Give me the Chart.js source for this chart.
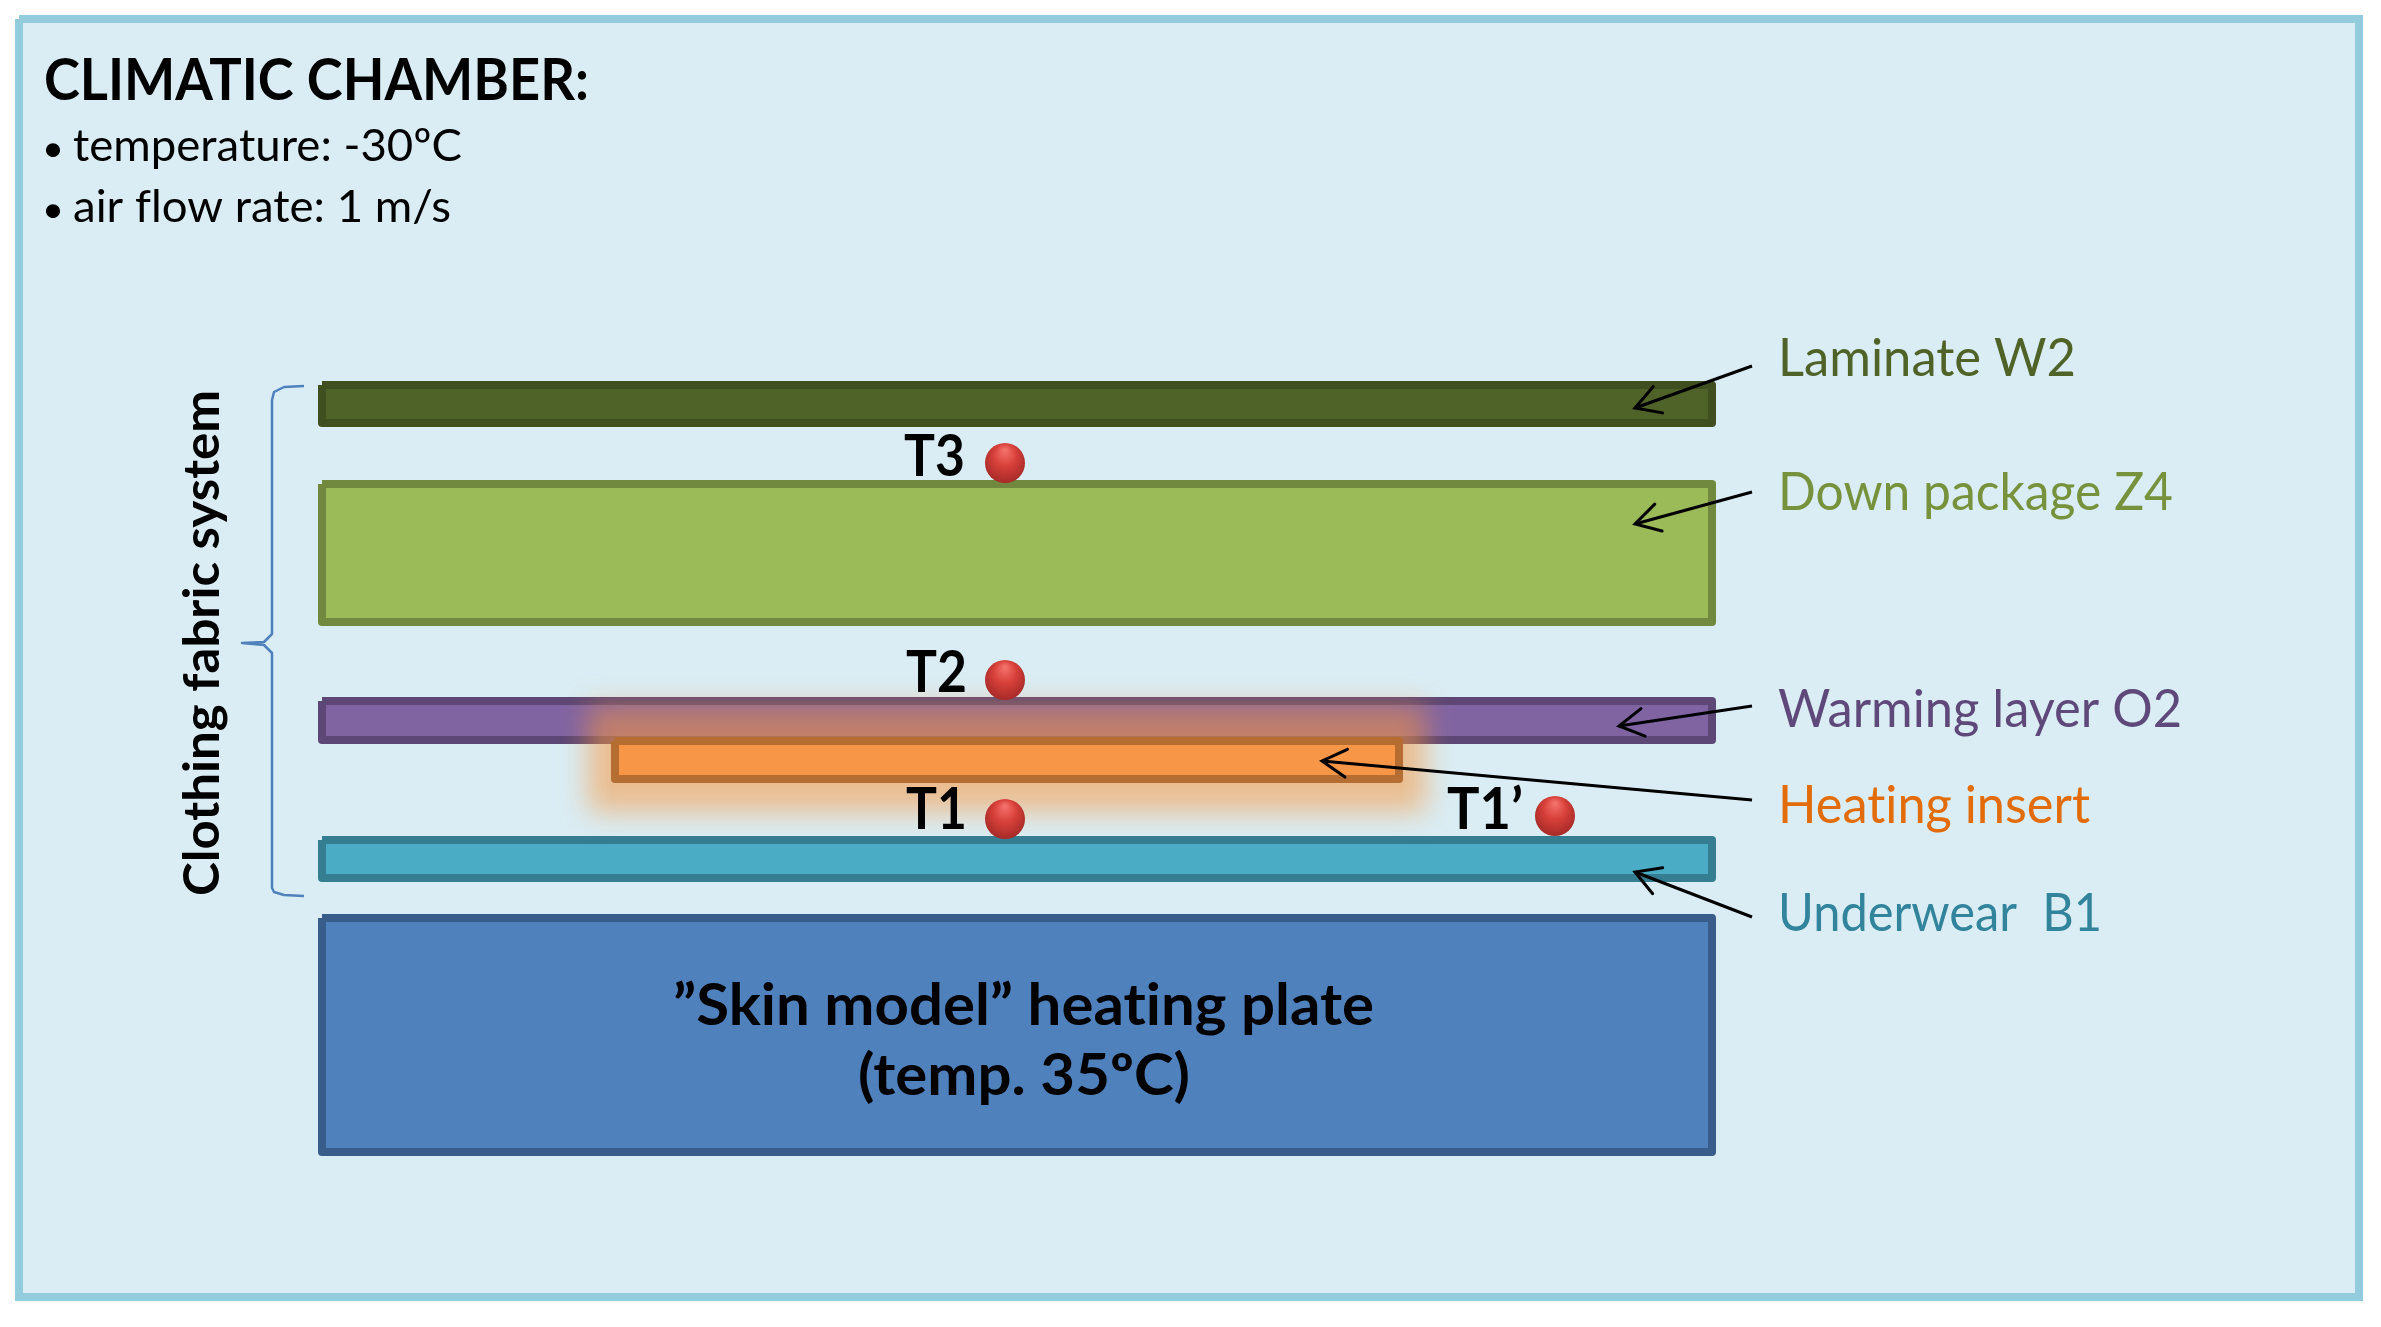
<!DOCTYPE html>
<html>
<head>
<meta charset="utf-8">
<style>html,body{margin:0;padding:0;background:#fff}canvas{display:block}</style>
<script src="https://cdn.jsdelivr.net/npm/chart.js@4/dist/chart.umd.min.js"></script>
</head>
<body>
<canvas id="c" width="2381" height="1327"></canvas>
<script>
// Layers (readings on the picture's own axes; stroke centre lines)
const layerNames  = ['Laminate W2','Down package Z4','Warming layer O2','Heating insert','Underwear B1','Heating plate'];
const layerLeft   = [322, 322, 322, 615, 322, 322];
const layerRight  = [1712, 1712, 1712, 1399, 1712, 1712];
const layerTop    = [385, 484, 701, 741, 840, 918];
const layerBottom = [423, 622, 740, 779, 878, 1152];
const layerFill   = ['#4F6228','#9BBB59','#8064A2','#F79646','#4BACC6','#4F81BD'];
const layerStroke = ['#3F4F20','#71893F','#5C4776','#B66D31','#357D91','#385D8A'];

const panelX = [19, 2359], panelY = [19, 1297];
const glowX = [588, 1426], glowY = [706, 812];

// Temperature sensors
const sensorNames = ['T3','T2','T1','T1’'];
const sensorX = [1005, 1005, 1005, 1555];
const sensorY = [463, 680, 819, 816];

// Callout arrows
const arrowFromX = [1752, 1752, 1752, 1752, 1752];
const arrowFromY = [366, 492, 706, 800, 917];
const arrowToX   = [1635, 1635, 1619, 1322, 1635];
const arrowToY   = [408, 524, 726, 761, 872];

// Brace
const braceX = [304, 284, 274, 272, 272, 264, 242, 264, 272, 272, 274, 284, 304];
const braceY = [386, 387, 392, 400, 634, 642, 643, 645, 653, 888, 892, 895, 896];

// Text: string, x start, x end, baseline, font, colour
const textItems = [
 ['CLIMATIC CHAMBER:', 44, 589, 100, 'bold 57px Lato', '#000'],
 ['•', 42, 64, 161, '36px Lato', '#000'],
 ['temperature: -30ºC', 73, 462, 161, '45px Lato', '#000'],
 ['•', 42, 64, 222, '36px Lato', '#000'],
 ['air flow rate: 1 m/s', 73, 451, 222, '45px Lato', '#000'],
 ['Laminate W2', 1778, 2076, 376, '52px Lato', '#4F6228'],
 ['Down package Z4', 1778, 2173, 510, '52px Lato', '#76923C'],
 ['Warming layer O2', 1778, 2182, 727, '52px Lato', '#5F497A'],
 ['Heating insert', 1778, 2090, 823, '52px Lato', '#E36C0A'],
 ['Underwear  B1', 1778, 2102, 931, '52px Lato', '#31849B'],
 ['T3', 904, 965, 476, 'bold 57px Lato', '#000'],
 ['T2', 906, 967, 692, 'bold 57px Lato', '#000'],
 ['T1', 906, 967, 829, 'bold 57px Lato', '#000'],
 ['T1’', 1447, 1523, 829, 'bold 57px Lato', '#000'],
 ['”Skin model” heating plate', 673, 1374, 1025, 'bold 57px Lato', '#000'],
 ['(temp. 35ºC)', 858, 1190, 1095, 'bold 57px Lato', '#000']
];
const sideText = ['Clothing fabric system', 219, 896, 390, 'bold 50px Lato', '#000'];

function rect(x0, x1, y0, y1){
  return [{x:x0,y:y0},{x:x1,y:y0},{x:x1,y:y1},{x:x0,y:y1},{x:x0,y:y0}];
}
const base = {showLine:true, pointRadius:0, pointHoverRadius:0, borderJoinStyle:'round', tension:0};
const datasets = [];
datasets.push({...base, label:'Climatic chamber', data:rect(panelX[0],panelX[1],panelY[0],panelY[1]),
  fill:'shape', backgroundColor:'#DAEDF4', borderColor:'#93CDDD', borderWidth:8, borderJoinStyle:'miter'});
datasets.push({...base, label:'Brace', data:braceX.map((x,i)=>({x,y:braceY[i]})), fill:false, borderColor:'#4F81BD', borderWidth:2.5});
const addLayer = i => datasets.push({...base, label:layerNames[i],
  data:rect(layerLeft[i],layerRight[i],layerTop[i],layerBottom[i]),
  fill:'shape', backgroundColor:layerFill[i], borderColor:layerStroke[i], borderWidth:8});
[0,1,2,4,5].forEach(addLayer);
datasets.push({...base, label:'Glow', isGlow:true, data:rect(glowX[0],glowX[1],glowY[0],glowY[1]), fill:false, borderColor:'rgba(0,0,0,0)', borderWidth:0});
addLayer(3);
sensorNames.forEach((n,i)=>datasets.push({label:n, data:[{x:sensorX[i],y:sensorY[i]}], showLine:false,
  pointStyle:'circle', pointRadius:20, pointHoverRadius:20, pointBorderWidth:0,
  pointBackgroundColor:(c)=>{
    const ch=c.chart, px=ch.scales.x.getPixelForValue(sensorX[i]), py=ch.scales.y.getPixelForValue(sensorY[i]);
    if(!isFinite(px)||!isFinite(py)) return '#D53C36';
    const g=ch.ctx.createRadialGradient(px,py-13,1,px,py-2,24);
    g.addColorStop(0,'#F4706A'); g.addColorStop(0.45,'#D8403A'); g.addColorStop(1,'#A02825');
    return g;
  }}));
arrowToX.forEach((x,i)=>datasets.push({...base, label:'Arrow '+layerNames[i], isArrow:true,
  data:[{x:arrowFromX[i],y:arrowFromY[i]},{x,y:arrowToY[i]}], fill:false, borderColor:'#000', borderWidth:3}));
datasets.forEach((d,i)=>{d.order=datasets.length-i;});

const drawing = {
  id:'drawing',
  beforeDatasetDraw(chart,args){
    const d=chart.data.datasets[args.index];
    if(!d.isGlow) return;
    const {x,y}=chart.scales, c=chart.ctx;
    c.save();
    c.filter='blur(14px)';
    c.fillStyle='rgba(247,150,60,0.55)';
    const a=x.getPixelForValue(glowX[0]), b=x.getPixelForValue(glowX[1]), t=y.getPixelForValue(glowY[0]), u=y.getPixelForValue(glowY[1]);
    c.fillRect(a,t,b-a,u-t);
    c.restore();
  },
  afterDatasetDraw(chart,args){
    const d=chart.data.datasets[args.index];
    if(!d.isArrow) return;
    const {x,y}=chart.scales, c=chart.ctx;
    const x0=x.getPixelForValue(d.data[0].x), y0=y.getPixelForValue(d.data[0].y);
    const x1=x.getPixelForValue(d.data[1].x), y1=y.getPixelForValue(d.data[1].y);
    const ang=Math.atan2(y0-y1,x0-x1), L=28, w=0.52;
    c.save();
    c.strokeStyle='#000'; c.lineWidth=3; c.lineCap='round';
    c.beginPath();
    c.moveTo(x1+L*Math.cos(ang+w),y1+L*Math.sin(ang+w));
    c.lineTo(x1,y1);
    c.lineTo(x1+L*Math.cos(ang-w),y1+L*Math.sin(ang-w));
    c.stroke();
    c.restore();
  },
  afterDatasetsDraw(chart){
    const {x,y}=chart.scales, c=chart.ctx;
    const fit=(t,len,font,col)=>{
      c.font=font; c.fillStyle=col; c.textBaseline='alphabetic'; c.textAlign='left';
      c.letterSpacing='0.01px';
      const w=c.measureText(t).width;
      c.scale(len/w,1);
      c.fillText(t,0,0);
    };
    textItems.forEach(([t,a,b,base,font,col])=>{
      const px=x.getPixelForValue(a), qx=x.getPixelForValue(b), py=y.getPixelForValue(base);
      c.save(); c.translate(px,py);
      fit(t,qx-px,font,col);
      c.restore();
    });
    const [t,bx,y0,y1,font,col]=sideText;
    const px=x.getPixelForValue(bx), a=y.getPixelForValue(y0), b=y.getPixelForValue(y1);
    c.save(); c.translate(px,a); c.rotate(-Math.PI/2);
    fit(t,a-b,font,col);
    c.restore();
  }
};

new Chart(document.getElementById('c'),{
  type:'scatter',
  data:{datasets},
  plugins:[drawing],
  options:{
    responsive:false, animation:false, devicePixelRatio:1,
    layout:{padding:0, autoPadding:false},
    events:[],
    clip:false,
    plugins:{legend:{display:false},tooltip:{enabled:false},title:{display:false}},
    scales:{
      x:{type:'linear',display:false,min:0,max:2381},
      y:{type:'linear',display:false,min:0,max:1327,reverse:true}
    }
  }
});
</script>
</body>
</html>
